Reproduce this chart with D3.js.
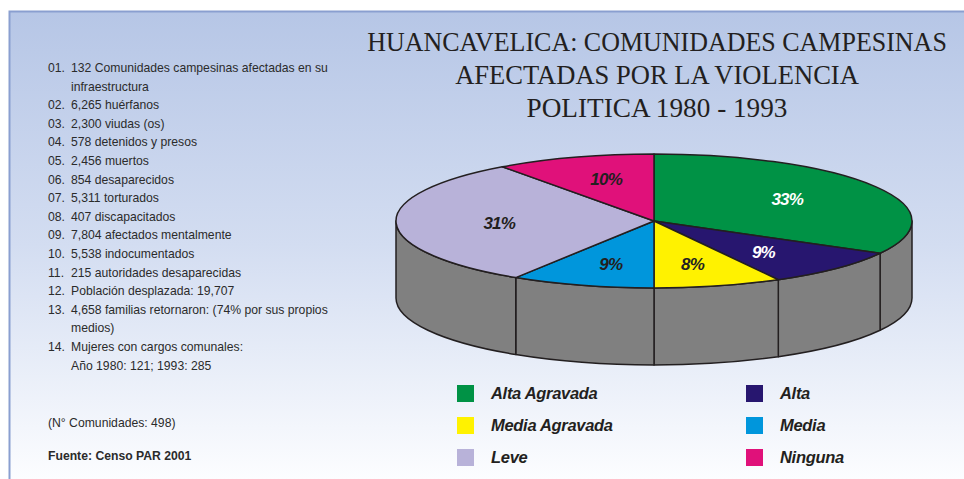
<!DOCTYPE html>
<html lang="es">
<head>
    <meta charset="UTF-8">
    <title>Huancavelica</title>
    <style>
        body { margin: 0; background: #fff; }
        svg { display: block; }
    </style>
</head>
<body>
    <script src="https://cdn.jsdelivr.net/npm/d3@7"></script>
    <script>
        // data
        var categories = ["Alta Agravada", "Alta", "Media Agravada", "Media", "Leve", "Ninguna"];
        var values = [33, 9, 8, 9, 31, 10];
        var colors = ["#009245", "#27166f", "#fff200", "#0096dc", "#b8b2d9", "#e0117a"];
        var labelColors = ["#ffffff", "#ffffff", "#231f20", "#231f20", "#231f20", "#231f20"];
        var legendOrder = ["Alta Agravada", "Alta", "Media Agravada", "Media", "Leve", "Ninguna"];

        var titleLines = ["HUANCAVELICA: COMUNIDADES CAMPESINAS", "AFECTADAS POR LA VIOLENCIA", "POLITICA 1980 - 1993"];

        var notes = [
            ["01.", ["132 Comunidades campesinas afectadas en su", "infraestructura"]],
            ["02.", ["6,265 huérfanos"]],
            ["03.", ["2,300 viudas (os)"]],
            ["04.", ["578 detenidos y presos"]],
            ["05.", ["2,456 muertos"]],
            ["06.", ["854 desaparecidos"]],
            ["07.", ["5,311 torturados"]],
            ["08.", ["407 discapacitados"]],
            ["09.", ["7,804 afectados mentalmente"]],
            ["10.", ["5,538 indocumentados"]],
            ["11.", ["215 autoridades desaparecidas"]],
            ["12.", ["Población desplazada: 19,707"]],
            ["13.", ["4,658 familias retornaron: (74% por sus propios", "medios)"]],
            ["14.", ["Mujeres con cargos comunales:", "Año 1980: 121; 1993: 285"]]
        ];
        var totalNote = "(N° Comunidades: 498)";
        var sourceNote = "Fuente: Censo PAR 2001";

        var width = 964, height = 479;

        var svg = d3.select("body").append("svg")
            .attr("width", width).attr("height", height);

        // background panel
        var grad = svg.append("defs").append("linearGradient")
            .attr("id", "bg").attr("x1", 0).attr("y1", 0).attr("x2", 0).attr("y2", 1);
        grad.append("stop").attr("offset", "0%").attr("stop-color", "#b6c6e6");
        grad.append("stop").attr("offset", "50%").attr("stop-color", "#d3ddf1");
        grad.append("stop").attr("offset", "100%").attr("stop-color", "#fcfdff");

        svg.append("rect").attr("x", 9).attr("y", 11).attr("width", width - 9).attr("height", height - 11)
            .attr("fill", "url(#bg)");
        svg.append("path").attr("d", "M9.5," + height + "V11.5H" + width)
            .attr("fill", "none").attr("stroke", "#8a9fd0").attr("stroke-width", 2);

        // title (narrow serif: squeeze each line horizontally)
        var titleWidths = [580, 404, 261];
        svg.append("g").selectAll("text").data(titleLines).enter().append("text")
            .attr("text-anchor", "middle")
            .attr("font-family", "'Liberation Serif', 'DejaVu Serif', serif")
            .attr("font-size", 27)
            .attr("fill", "#231f20")
            .text(function (d) { return d; })
            .attr("transform", function (d, i) {
                var k = titleWidths[i] / this.getComputedTextLength();
                return "translate(657," + (51 + i * 33) + ") scale(" + k + ",1)";
            });

        // notes on the left
        var noteG = svg.append("g")
            .attr("font-family", "'Liberation Sans', Arial, sans-serif")
            .attr("font-size", 12.2)
            .attr("fill", "#2b2b2b");
        var lineH = 18.6, y0 = 72, row = 0;
        notes.forEach(function (n) {
            noteG.append("text").attr("x", 48).attr("y", y0 + row * lineH).text(n[0]);
            n[1].forEach(function (t) {
                noteG.append("text").attr("x", 71).attr("y", y0 + row * lineH).text(t);
                row++;
            });
        });
        noteG.append("text").attr("x", 48).attr("y", 427).text(totalNote);
        noteG.append("text").attr("x", 48).attr("y", 460).attr("font-weight", "bold").text(sourceNote);

        // 3D pie
        var cx = 654, cy = 221, rx = 258, ry = 67, depth = 77;
        var pie = d3.pie().sort(null).value(function (d) { return d; });
        var arcs = pie(values);

        function pt(a, dy) {
            return [cx + rx * Math.sin(a), cy - ry * Math.cos(a) + (dy || 0)];
        }

        var pieG = svg.append("g")
            .attr("stroke", "#231f20").attr("stroke-width", 1.5).attr("stroke-linejoin", "round");

        // side walls, front half only (right -> bottom -> left)
        arcs.forEach(function (d) {
            var s = Math.max(d.startAngle, Math.PI / 2);
            var e = Math.min(d.endAngle, 3 * Math.PI / 2);
            if (e <= s) return;
            var p0 = pt(s), p1 = pt(e), p2 = pt(e, depth), p3 = pt(s, depth);
            var path = "M" + p0 + "A" + rx + "," + ry + " 0 0 1 " + p1 +
                "L" + p2 + "A" + rx + "," + ry + " 0 0 0 " + p3 + "Z";
            pieG.append("path").attr("d", path).attr("fill", "#808080");
        });

        // top faces
        arcs.forEach(function (d, i) {
            var p0 = pt(d.startAngle), p1 = pt(d.endAngle);
            var large = (d.endAngle - d.startAngle) > Math.PI ? 1 : 0;
            var path = "M" + cx + "," + cy + "L" + p0 + "A" + rx + "," + ry + " 0 " + large + " 1 " + p1 + "Z";
            pieG.append("path").attr("d", path).attr("fill", colors[i]);
        });

        // percentage labels
        function labelPos(d) {
            var p = pt((d.startAngle + d.endAngle) / 2);
            return [cx + (p[0] - cx) * 0.6, cy + (p[1] - cy) * 0.66];
        }
        svg.append("g").selectAll("text").data(arcs).enter().append("text")
            .attr("x", function (d) { return labelPos(d)[0]; })
            .attr("y", function (d) { return labelPos(d)[1]; })
            .attr("dy", "0.36em")
            .attr("text-anchor", "middle")
            .attr("font-family", "'Liberation Sans', Arial, sans-serif")
            .attr("font-size", 17)
            .attr("font-weight", "bold")
            .attr("font-style", "italic")
            .attr("letter-spacing", -0.8)
            .attr("fill", function (d, i) { return labelColors[i]; })
            .text(function (d) { return d.data + "%"; });

        // legend
        var leg = svg.append("g").selectAll("g").data(legendOrder).enter().append("g")
            .attr("transform", function (d, i) {
                return "translate(" + (i % 2 ? 746 : 457) + "," + (385 + Math.floor(i / 2) * 32) + ")";
            });
        leg.append("rect").attr("width", 17).attr("height", 17)
            .attr("fill", function (d) { return colors[categories.indexOf(d)]; });
        leg.append("text")
            .attr("x", 34).attr("y", 14)
            .attr("font-family", "'Liberation Sans', Arial, sans-serif")
            .attr("font-size", 16.5)
            .attr("font-weight", "bold")
            .attr("font-style", "italic")
            .attr("letter-spacing", -0.3)
            .attr("fill", "#231f20")
            .text(function (d) { return d; });
    </script>
</body>
</html>
